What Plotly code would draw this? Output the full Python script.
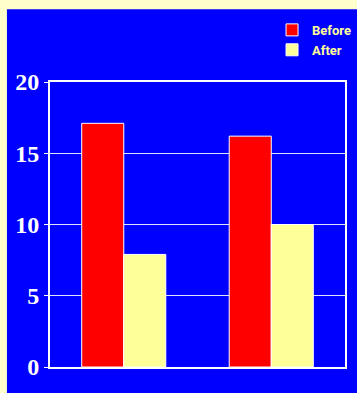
import plotly.graph_objects as go

# Two groups compared before and after
categories = ["Group 1", "Group 2"]
before = [17.1, 16.2]
after = [7.9, 10.0]
y_ticks = [0, 5, 10, 15, 20]

BLUE = "#0000FF"
RED = "#FF0000"
PALE = "#FFFF99"
FRAME = "#FFFFCC"

fig = go.Figure()
fig.add_trace(go.Bar(
    x=categories, y=before, name="Before", legendgroup="a",
    marker=dict(color=RED, line=dict(color="white", width=1)),
))
fig.add_trace(go.Bar(
    x=categories, y=after, name="After", legendgroup="b",
    marker=dict(color=PALE, line=dict(color="white", width=1)),
))

fig.update_layout(
    width=357, height=393,
    margin=dict(l=50, r=12, t=82, b=26, autoexpand=False),
    paper_bgcolor=FRAME,
    plot_bgcolor=BLUE,
    barmode="group",
    bargap=0.43,
    bargroupgap=0,
    showlegend=True,
    legend=dict(
        xref="container", yref="container",
        x=0.762, y=0.962, xanchor="left", yanchor="top",
        bgcolor="rgba(0,0,0,0)",
        font=dict(family="Roboto", size=13, color=PALE, weight="bold"),
        tracegroupgap=6,
        traceorder="normal",
    ),
    shapes=[dict(
        type="rect", xref="paper", yref="paper",
        x0=-0.146, x1=1.2, y0=-0.2, y1=1.2557,
        fillcolor=BLUE, line=dict(width=0), layer="below",
    )],
)

fig.update_xaxes(
    showticklabels=False, showgrid=False,
    showline=True, linecolor="white", linewidth=2, mirror=True,
    ticks="",
)
fig.update_yaxes(
    range=[0, 20], tickvals=y_ticks,
    tickfont=dict(family="Liberation Serif", size=24, color="white", weight="bold"),
    showgrid=True, gridcolor="#E0E0FF", gridwidth=1,
    showline=True, linecolor="white", linewidth=2, mirror=True,
    ticks="outside", ticklen=4, tickcolor="white", tickwidth=1,
    zeroline=False,
)

fig.write_html("out.html")
